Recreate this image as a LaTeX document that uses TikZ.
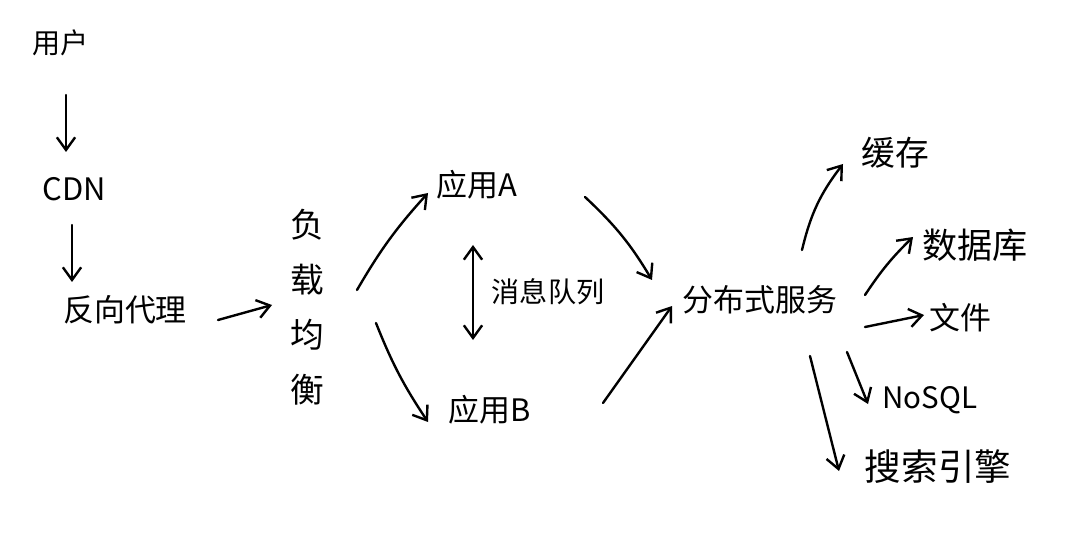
\documentclass[tikz,border=0pt]{standalone}
\usepackage{fontspec}
\setmainfont{Noto Sans CJK SC}
\usetikzlibrary{arrows.meta,calc}
\begin{document}
\begin{tikzpicture}[x=0.025cm,y=-0.025cm,
  lbl/.style={inner sep=0pt,font=\fontsize{22}{26}\selectfont},
  arr/.style={line width=1.7pt,line cap=round,-{Straight Barb[length=9pt,width=13pt,line width=1.7pt]}},
  darr/.style={line width=1.7pt,line cap=round,{Straight Barb[length=9pt,width=13pt,line width=1.7pt]}-{Straight Barb[length=9pt,width=13pt,line width=1.7pt]}}]
\fill[white] (0,0) rectangle (1080,538);
\useasboundingbox (0,0) rectangle (1080,538);
% nodes
\node[lbl,font=\fontsize{20}{24}\selectfont] (u) at (61,43) {用户};
\node[lbl,font=\fontsize{22}{26}\selectfont] (cdn) at (74,189) {CDN};
\node[lbl] (rp) at (125,310) {反向代理};
\node[lbl,font=\fontsize{24}{39}\selectfont,align=center] (lb) at (307,307) {负\\载\\均\\衡};
\node[lbl] (appA) at (477,185) {应用A};
\node[lbl,font=\fontsize{20}{24}\selectfont] (mq) at (548,292) {消息队列};
\node[lbl] (appB) at (490,410) {应用B};
\node[lbl] (ds) at (760,300) {分布式服务};
\node[lbl,font=\fontsize{24}{28}\selectfont] (cache) at (895,153) {缓存};
\node[lbl,font=\fontsize{25}{30}\selectfont] (db) at (975,245) {数据库};
\node[lbl] (file) at (960,318) {文件};
\node[lbl,font=\fontsize{21}{25}\selectfont] (nosql) at (930,400) {NoSQL};
\node[lbl,font=\fontsize{26}{30}\selectfont] (search) at (938,467) {搜索引擎};
% connectors
\draw[arr] ($(u)+(5,52)$) -- ($(cdn)+(-8,-37)$);
\draw[arr] ($(cdn)+(-2,36)$) -- ($(rp)+(-53,-28)$);
\draw[arr] ($(rp)+(93,10)$) -- ($(lb)+(-35,-2)$);
\draw[arr] ($(lb)+(50,-17)$) to[bend left=6] ($(appA)+(-49,8)$);
\draw[arr] ($(lb)+(69,16)$) to[bend right=6] ($(appB)+(-62,12)$);
\draw[darr] ($(appA)+(-4,60)$) -- ($(appB)+(-17,-70)$);
\draw[arr] ($(appA)+(108,12)$) to[bend left=8] ($(ds)+(-108,-20)$);
\draw[arr] ($(appB)+(113,-7)$) -- ($(ds)+(-88,6)$);
\draw[arr] ($(ds)+(42,-50)$) to[bend left=12] ($(cache)+(-52,11)$);
\draw[arr] ($(ds)+(105,-5)$) to[bend left=6] ($(db)+(-62,-8)$);
\draw[arr] ($(ds)+(105,27)$) -- ($(file)+(-36,-3)$);
\draw[arr] ($(ds)+(87,52)$) -- ($(nosql)+(-62,4)$);
\draw[arr] ($(ds)+(50,56)$) -- ($(search)+(-99,4)$);
\end{tikzpicture}
\end{document}
